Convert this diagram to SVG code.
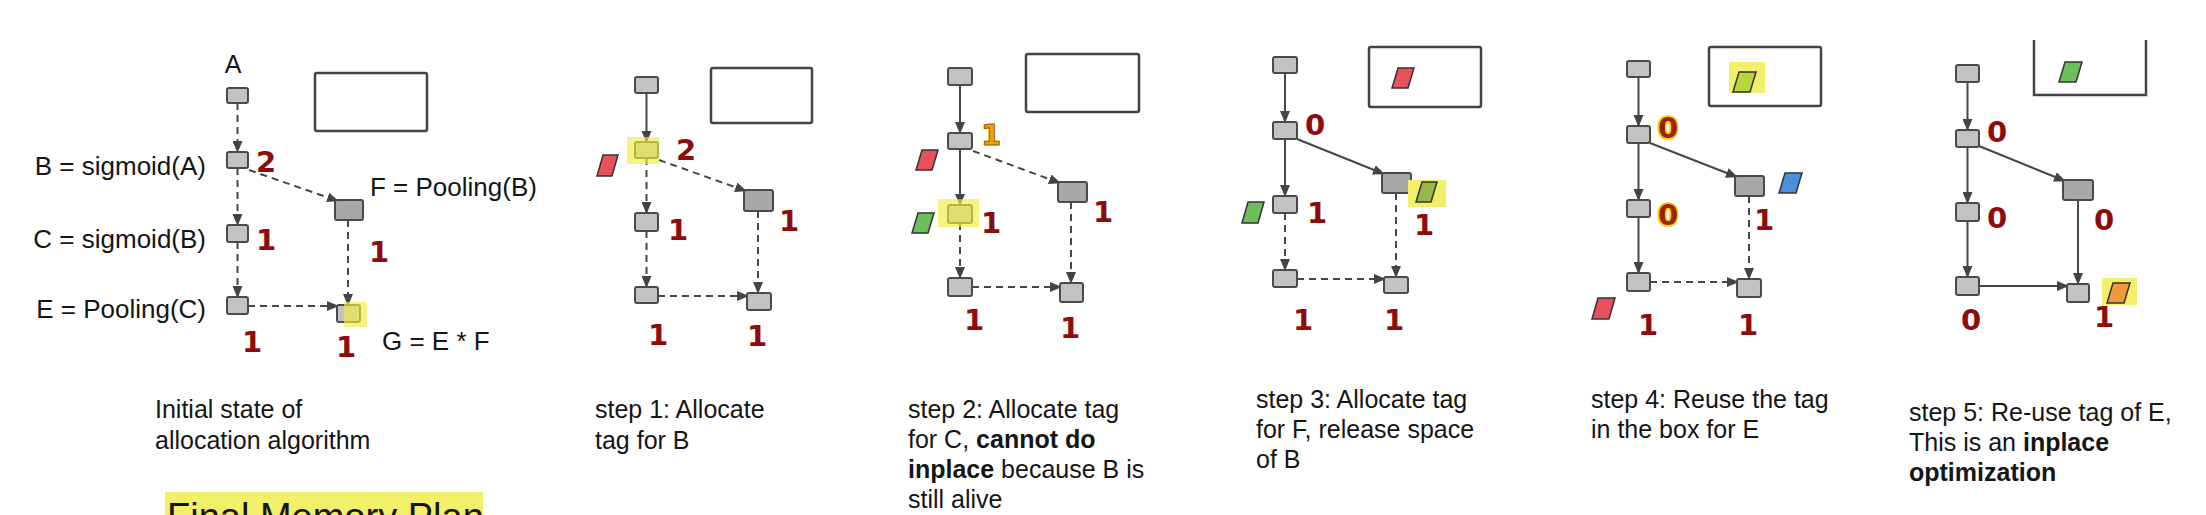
<svg xmlns="http://www.w3.org/2000/svg" width="2206" height="515" viewBox="0 0 2206 515">
<style>
.bg{fill:#ffffff}
.nd{fill:#c2c2c2;stroke:#4a4a4a;stroke-width:2}
.ndf{fill:#a8a8a8;stroke:#4a4a4a;stroke-width:2}
.mem{fill:none;stroke:#444;stroke-width:2.5}
.c{fill:none;stroke:#474747;stroke-width:2}
.d{stroke-dasharray:7 5}
.t{font-family:"Liberation Sans",Arial,sans-serif;font-size:25px;fill:#151515}
.lb{font-size:26px}
.b{font-weight:bold}
.n{font-family:"DejaVu Sans",sans-serif;font-weight:bold;font-size:29px;fill:#8e0c0c}
.no{fill:#f0a400;stroke:#a05800;stroke-width:1}
.ny{fill:#a0200a;stroke:#f3d000;stroke-width:3.5;paint-order:stroke}
.hl{fill:#f0ec40;opacity:0.65}
.hlb{fill:#f2ef6a}
.tag{stroke:#333;stroke-width:1.5}
.red{fill:#e8505a}
.grn{fill:#6cbf5a}
.olv{fill:#98b84c}
.ygr{fill:#b6d63c}
.blu{fill:#4a8fe0}
.org{fill:#f09a3c}
</style>
<defs>
<marker id="ah" viewBox="0 0 12 10" refX="11" refY="5" markerWidth="12" markerHeight="10" markerUnits="userSpaceOnUse" orient="auto"><path d="M0,0 L12,5 L0,10 z" fill="#444"/></marker>
</defs>
<rect class="bg" x="0" y="0" width="2206" height="515"/>

<g id="connectors">
<!-- panel 1 -->
<path class="c d" d="M237.5,103 V152" marker-end="url(#ah)"/>
<path class="c d" d="M237.5,168 V225" marker-end="url(#ah)"/>
<path class="c d" d="M237.5,242 V297" marker-end="url(#ah)"/>
<path class="c d" d="M249,170 L338,201" marker-end="url(#ah)"/>
<path class="c d" d="M348,220 V305" marker-end="url(#ah)"/>
<path class="c d" d="M248,306 H338" marker-end="url(#ah)"/>
<!-- panel 2 -->
<path class="c" d="M646.5,93 V142" marker-end="url(#ah)"/>
<path class="c d" d="M646.5,158 V213" marker-end="url(#ah)"/>
<path class="c d" d="M646.5,231 V287" marker-end="url(#ah)"/>
<path class="c d" d="M659,160 L746,191" marker-end="url(#ah)"/>
<path class="c d" d="M758,211 V293" marker-end="url(#ah)"/>
<path class="c d" d="M658,296 H748" marker-end="url(#ah)"/>
<!-- panel 3 -->
<path class="c" d="M960,85 V133" marker-end="url(#ah)"/>
<path class="c" d="M960,149 V205" marker-end="url(#ah)"/>
<path class="c d" d="M960,223 V278" marker-end="url(#ah)"/>
<path class="c d" d="M973,151 L1060,183" marker-end="url(#ah)"/>
<path class="c d" d="M1071,202 V283" marker-end="url(#ah)"/>
<path class="c d" d="M972,287 H1061" marker-end="url(#ah)"/>
<!-- panel 4 -->
<path class="c" d="M1285,73 V122" marker-end="url(#ah)"/>
<path class="c" d="M1285,139 V196" marker-end="url(#ah)"/>
<path class="c" d="M1297,139 L1384,174" marker-end="url(#ah)"/>
<path class="c d" d="M1285,213 V270" marker-end="url(#ah)"/>
<path class="c d" d="M1396,193 V277" marker-end="url(#ah)"/>
<path class="c d" d="M1297,279 H1385" marker-end="url(#ah)"/>
<!-- panel 5 -->
<path class="c" d="M1638.5,77 V126" marker-end="url(#ah)"/>
<path class="c" d="M1638.5,143 V200" marker-end="url(#ah)"/>
<path class="c" d="M1638.5,217 V273" marker-end="url(#ah)"/>
<path class="c" d="M1650,143 L1737,177" marker-end="url(#ah)"/>
<path class="c d" d="M1749,196 V279" marker-end="url(#ah)"/>
<path class="c d" d="M1650,282 H1738" marker-end="url(#ah)"/>
<!-- panel 6 -->
<path class="c" d="M1967.5,82 V130" marker-end="url(#ah)"/>
<path class="c" d="M1967.5,147 V203" marker-end="url(#ah)"/>
<path class="c" d="M1967.5,221 V277" marker-end="url(#ah)"/>
<path class="c" d="M1979,146 L2065,181" marker-end="url(#ah)"/>
<path class="c" d="M2078,200 V284" marker-end="url(#ah)"/>
<path class="c" d="M1979,286 H2068" marker-end="url(#ah)"/>
</g>

<!-- ===== Panel 1 ===== -->
<g id="p1">
<text class="t" x="233" y="73" text-anchor="middle">A</text>
<text class="t lb" x="206" y="175" text-anchor="end">B = sigmoid(A)</text>
<text class="t lb" x="206" y="248" text-anchor="end">C = sigmoid(B)</text>
<text class="t lb" x="206" y="318" text-anchor="end">E = Pooling(C)</text>
<text class="t lb" x="370" y="196">F = Pooling(B)</text>
<text class="t lb" x="382" y="350">G = E * F</text>
<rect id="p1-mem" class="mem" x="315" y="73" width="112" height="58" rx="2"/>
<g id="p1-A"><rect class="nd" x="227" y="88" width="21" height="15" rx="2"/></g>
<g id="p1-B"><rect class="nd" x="227" y="152" width="21" height="16" rx="2"/><text class="n" x="256" y="172">2</text></g>
<g id="p1-C"><rect class="nd" x="227" y="225" width="21" height="17" rx="2"/><text class="n" x="256" y="250">1</text></g>
<g id="p1-E"><rect class="nd" x="227" y="297" width="21" height="17" rx="2"/><text class="n" x="242" y="352">1</text></g>
<g id="p1-F"><rect class="ndf" x="335" y="200" width="28" height="20" rx="2"/><text class="n" x="369" y="262">1</text></g>
<g id="p1-G"><rect class="nd" x="337" y="305" width="23" height="17" rx="2"/><rect class="hl" x="344" y="302" width="23" height="25"/><text class="n" x="336" y="357">1</text></g>
<text class="t" x="155" y="418">Initial state of</text>
<text class="t" x="155" y="449">allocation algorithm</text>
<rect class="hlb" x="165" y="492" width="318" height="23"/>
<text class="t" x="167" y="530" style="font-size:38px">Final Memory Plan</text>
</g>

<!-- ===== Panel 2 ===== -->
<g id="p2">
<rect id="p2-mem" class="mem" x="711" y="68" width="101" height="55" rx="2"/>
<g id="p2-A"><rect class="nd" x="635" y="77" width="23" height="16" rx="2"/></g>
<g id="p2-B"><rect class="nd" x="635" y="142" width="23" height="16" rx="2"/><rect class="hl" x="627" y="137" width="32" height="27"/><text class="n" x="676" y="160">2</text></g>
<polygon id="p2-tag-red" class="tag red" points="597,176 612,176 618,155 603,155"/>
<g id="p2-C"><rect class="nd" x="635" y="213" width="23" height="18" rx="2"/><text class="n" x="668" y="240">1</text></g>
<g id="p2-E"><rect class="nd" x="635" y="287" width="23" height="16" rx="2"/><text class="n" x="648" y="345">1</text></g>
<g id="p2-F"><rect class="ndf" x="744" y="190" width="29" height="21" rx="2"/><text class="n" x="779" y="231">1</text></g>
<g id="p2-G"><rect class="nd" x="747" y="293" width="24" height="17" rx="2"/><text class="n" x="747" y="346">1</text></g>
<text class="t" x="595" y="418">step 1: Allocate</text>
<text class="t" x="595" y="449">tag for B</text>
</g>

<!-- ===== Panel 3 ===== -->
<g id="p3">
<rect id="p3-mem" class="mem" x="1026" y="54" width="113" height="58" rx="2"/>
<g id="p3-A"><rect class="nd" x="948" y="68" width="24" height="17" rx="2"/></g>
<g id="p3-B"><rect class="nd" x="948" y="133" width="24" height="16" rx="2"/><text class="n no" x="981" y="145">1</text></g>
<polygon id="p3-tag-red" class="tag red" points="916,170 932,170 938,150 922,150"/>
<g id="p3-C"><rect class="nd" x="948" y="205" width="24" height="18" rx="2"/><rect class="hl" x="938" y="199" width="41" height="28"/><text class="n" x="981" y="233">1</text></g>
<polygon id="p3-tag-green" class="tag grn" points="912,233 928,233 934,213 918,213"/>
<g id="p3-E"><rect class="nd" x="948" y="278" width="24" height="18" rx="2"/><text class="n" x="964" y="330">1</text></g>
<g id="p3-F"><rect class="ndf" x="1058" y="182" width="29" height="20" rx="2"/><text class="n" x="1093" y="222">1</text></g>
<g id="p3-G"><rect class="nd" x="1060" y="283" width="23" height="19" rx="2"/><text class="n" x="1060" y="338">1</text></g>
<text class="t" x="908" y="418">step 2: Allocate tag</text>
<text class="t" x="908" y="448">for C, <tspan class="b">cannot do</tspan></text>
<text class="t" x="908" y="478"><tspan class="b">inplace</tspan> because B is</text>
<text class="t" x="908" y="508">still alive</text>
</g>

<!-- ===== Panel 4 ===== -->
<g id="p4">
<rect id="p4-mem" class="mem" x="1369" y="47" width="112" height="60" rx="2"/>
<polygon id="p4-tag-red" class="tag red" points="1392,88 1408,88 1414,68 1398,68"/>
<g id="p4-A"><rect class="nd" x="1273" y="57" width="24" height="16" rx="2"/></g>
<g id="p4-B"><rect class="nd" x="1273" y="122" width="24" height="17" rx="2"/><text class="n" x="1305" y="135">0</text></g>
<g id="p4-C"><rect class="nd" x="1273" y="196" width="24" height="17" rx="2"/><text class="n" x="1307" y="223">1</text></g>
<polygon id="p4-tag-green" class="tag grn" points="1242,223 1258,223 1264,202 1248,202"/>
<g id="p4-E"><rect class="nd" x="1273" y="270" width="24" height="17" rx="2"/><text class="n" x="1293" y="330">1</text></g>
<g id="p4-F"><rect class="ndf" x="1382" y="173" width="29" height="20" rx="2"/><text class="n" x="1414" y="235">1</text></g>
<rect class="hlb" x="1408" y="180" width="38" height="27"/>
<polygon id="p4-tag-olive" class="tag olv" points="1416,202 1431,202 1437,182 1422,182"/>
<g id="p4-G"><rect class="nd" x="1384" y="277" width="24" height="16" rx="2"/><text class="n" x="1384" y="330">1</text></g>
<text class="t" x="1256" y="408">step 3: Allocate tag</text>
<text class="t" x="1256" y="438">for F, release space</text>
<text class="t" x="1256" y="468">of B</text>
</g>

<!-- ===== Panel 5 ===== -->
<g id="p5">
<rect id="p5-mem" class="mem" x="1709" y="47" width="112" height="59" rx="2"/>
<rect class="hlb" x="1729" y="62" width="36" height="31"/>
<polygon id="p5-tag-yg" class="tag ygr" points="1733,92 1750,92 1756,72 1739,72"/>
<g id="p5-A"><rect class="nd" x="1627" y="61" width="23" height="16" rx="2"/></g>
<g id="p5-B"><rect class="nd" x="1627" y="126" width="23" height="17" rx="2"/><text class="n ny" x="1658" y="138">0</text></g>
<g id="p5-C"><rect class="nd" x="1627" y="200" width="23" height="17" rx="2"/><text class="n ny" x="1658" y="225">0</text></g>
<g id="p5-E"><rect class="nd" x="1627" y="273" width="23" height="18" rx="2"/><text class="n" x="1638" y="335">1</text></g>
<polygon id="p5-tag-red" class="tag red" points="1592,319 1609,319 1615,298 1598,298"/>
<g id="p5-F"><rect class="ndf" x="1735" y="176" width="29" height="20" rx="2"/><text class="n" x="1754" y="230">1</text></g>
<polygon id="p5-tag-blue" class="tag blu" points="1779,193 1796,193 1802,173 1785,173"/>
<g id="p5-G"><rect class="nd" x="1737" y="279" width="24" height="18" rx="2"/><text class="n" x="1738" y="335">1</text></g>
<text class="t" x="1591" y="408">step 4: Reuse the tag</text>
<text class="t" x="1591" y="438">in the box for E</text>
</g>

<!-- ===== Panel 6 ===== -->
<g id="p6">
<path id="p6-mem" class="mem" d="M2034,40 V95 H2146 V40"/>
<polygon id="p6-tag-green" class="tag grn" points="2059,82 2076,82 2082,62 2065,62"/>
<g id="p6-A"><rect class="nd" x="1956" y="65" width="23" height="17" rx="2"/></g>
<g id="p6-B"><rect class="nd" x="1956" y="130" width="23" height="17" rx="2"/><text class="n" x="1987" y="142">0</text></g>
<g id="p6-C"><rect class="nd" x="1956" y="203" width="23" height="18" rx="2"/><text class="n" x="1987" y="228">0</text></g>
<g id="p6-E"><rect class="nd" x="1956" y="277" width="23" height="18" rx="2"/><text class="n" x="1961" y="330">0</text></g>
<g id="p6-F"><rect class="ndf" x="2063" y="180" width="30" height="20" rx="2"/><text class="n" x="2094" y="230">0</text></g>
<g id="p6-G"><rect class="nd" x="2067" y="284" width="22" height="18" rx="2"/><text class="n" x="2094" y="327">1</text></g>
<rect class="hlb" x="2102" y="278" width="35" height="27"/>
<polygon id="p6-tag-orange" class="tag org" points="2107,303 2124,303 2130,283 2113,283"/>
<text class="t" x="1909" y="421">step 5: Re-use tag of E,</text>
<text class="t" x="1909" y="451">This is an <tspan class="b">inplace</tspan></text>
<text class="t" x="1909" y="481"><tspan class="b">optimization</tspan></text>
</g>
</svg>
